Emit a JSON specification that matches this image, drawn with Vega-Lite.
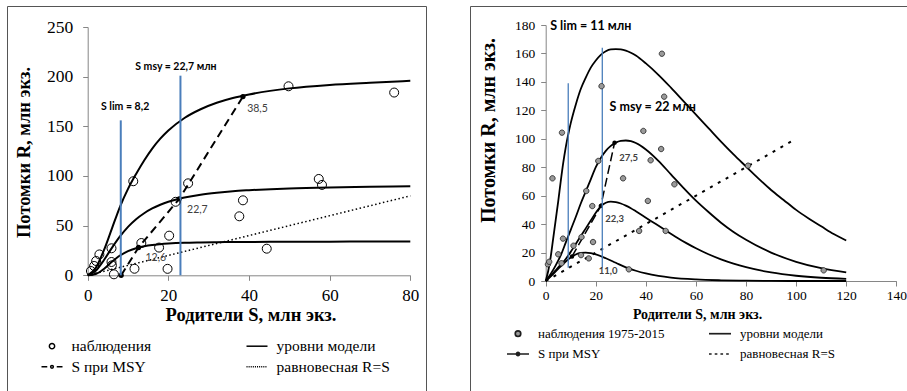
{
"$schema": "https://vega.github.io/schema/vega-lite/v6.json",
"padding": {"left": 6, "top": 5, "right": 0, "bottom": 0},
"background": "white",
"spacing": 42,
"config": {
  "view": {"stroke": "#555555", "strokeWidth": 1},
  "axis": {"grid": false, "domainColor": "#868686", "tickColor": "#868686", "labelColor": "black", "titleColor": "black", "labelFont": "Liberation Serif", "titleFont": "Liberation Serif", "titleFontWeight": "bold", "labelFlush": false, "labelOverlap": false, "tickSize": 5, "domainWidth": 1},
  "legend": {"padding": 0, "labelFont": "Liberation Serif", "labelColor": "black"},
  "text": {"font": "Lato"}
},
"resolve": {"scale": {"x": "independent", "y": "independent", "shape": "independent"}, "legend": {"shape": "independent"}},
"hconcat": [
{
  "width": 419, "height": 385,
  "encoding": {
    "x": {"field": "S", "type": "quantitative", "scale": {"domain": [0, 80], "range": [80.7, 403.3], "nice": false, "zero": false},
      "axis": {"title": "Родители S, млн экз.", "values": [0, 20, 40, 60, 80], "offset": -115.7, "labelFontSize": 17, "labelPadding": 7, "titleFontSize": 18.5, "titleBaseline": "alphabetic", "titleX": 243.5, "titleY": 45}},
    "y": {"field": "R", "type": "quantitative", "scale": {"domain": [0, 250], "range": [269.3, 21], "nice": false, "zero": false},
      "axis": {"title": "Потомки R, млн экз.", "values": [0, 50, 100, 150, 200, 250], "offset": -80.7, "labelFontSize": 17.5, "labelPadding": 10, "titleFontSize": 18.5, "titleBaseline": "middle", "titleX": -64.7, "titleY": 146}}
  },
  "layer": [
    {"data": {"values": [
      {"k": "high", "S": 0, "R": 0}, {"k": "high", "S": 2, "R": 7.5}, {"k": "high", "S": 4, "R": 25}, {"k": "high", "S": 6, "R": 47}, {"k": "high", "S": 8, "R": 69}, {"k": "high", "S": 10, "R": 87}, {"k": "high", "S": 12, "R": 102}, {"k": "high", "S": 14, "R": 115.6}, {"k": "high", "S": 16, "R": 127.6}, {"k": "high", "S": 18, "R": 137.6}, {"k": "high", "S": 20, "R": 145.8}, {"k": "high", "S": 24, "R": 158.4}, {"k": "high", "S": 28, "R": 167.2}, {"k": "high", "S": 32, "R": 173.7}, {"k": "high", "S": 36, "R": 178.5}, {"k": "high", "S": 40, "R": 182.1}, {"k": "high", "S": 50, "R": 188.2}, {"k": "high", "S": 60, "R": 191.7}, {"k": "high", "S": 70, "R": 193.9}, {"k": "high", "S": 80, "R": 195.8},
      {"k": "mid", "S": 0, "R": 0}, {"k": "mid", "S": 2, "R": 4.6}, {"k": "mid", "S": 4, "R": 15.2}, {"k": "mid", "S": 6, "R": 27.6}, {"k": "mid", "S": 8, "R": 39.1}, {"k": "mid", "S": 10, "R": 48.8}, {"k": "mid", "S": 12, "R": 56.5}, {"k": "mid", "S": 14, "R": 62.5}, {"k": "mid", "S": 16, "R": 67.3}, {"k": "mid", "S": 18, "R": 71}, {"k": "mid", "S": 20, "R": 74}, {"k": "mid", "S": 24, "R": 78.3}, {"k": "mid", "S": 28, "R": 81.2}, {"k": "mid", "S": 32, "R": 83.2}, {"k": "mid", "S": 36, "R": 84.7}, {"k": "mid", "S": 40, "R": 85.7}, {"k": "mid", "S": 50, "R": 87.5}, {"k": "mid", "S": 60, "R": 88.5}, {"k": "mid", "S": 70, "R": 89.1}, {"k": "mid", "S": 80, "R": 89.6},
      {"k": "low", "S": 0, "R": 0}, {"k": "low", "S": 2, "R": 1.3}, {"k": "low", "S": 4, "R": 6.4}, {"k": "low", "S": 6, "R": 13.6}, {"k": "low", "S": 8, "R": 19.9}, {"k": "low", "S": 10, "R": 24.4}, {"k": "low", "S": 12, "R": 27.3}, {"k": "low", "S": 14, "R": 29.2}, {"k": "low", "S": 16, "R": 30.5}, {"k": "low", "S": 18, "R": 31.3}, {"k": "low", "S": 20, "R": 31.9}, {"k": "low", "S": 24, "R": 32.7}, {"k": "low", "S": 28, "R": 33.1}, {"k": "low", "S": 32, "R": 33.4}, {"k": "low", "S": 36, "R": 33.5}, {"k": "low", "S": 40, "R": 33.6}, {"k": "low", "S": 50, "R": 33.8}, {"k": "low", "S": 60, "R": 33.9}, {"k": "low", "S": 70, "R": 33.95}, {"k": "low", "S": 80, "R": 34}
    ]},
     "mark": {"type": "line", "color": "black", "strokeWidth": 2, "interpolate": "monotone"},
     "encoding": {"detail": {"field": "k"}}},
    {"data": {"values": [{"S": 0, "R": 0}, {"S": 80, "R": 80}]},
     "mark": {"type": "line", "color": "black", "strokeWidth": 1.5, "strokeDash": [1.5, 2.5]},
     "encoding": {}},
    {"data": {"values": [{"S": 8.3, "R": 0}, {"S": 12.6, "R": 28}, {"S": 22.7, "R": 77}, {"S": 38.5, "R": 180}]},
     "mark": {"type": "line", "color": "black", "strokeWidth": 2, "strokeDash": [8, 5]},
     "encoding": {}},
    {"data": {"values": [{"S": 8.3, "R": 0}, {"S": 12.6, "R": 28}, {"S": 22.7, "R": 77}, {"S": 38.5, "R": 180}]},
     "mark": {"type": "point", "shape": "circle", "filled": true, "color": "black", "size": 28, "opacity": 1},
     "encoding": {}},
    {"data": {"values": [{"S": 8.2, "R": 0, "R2": 156}, {"S": 23, "R": 0, "R2": 201}]},
     "mark": {"type": "rule", "color": "#4a7ebb", "strokeWidth": 2},
     "encoding": {"y2": {"field": "R2"}}},
    {"data": {"values": [
      {"kind": "наблюдения", "S": 0.8, "R": 4.3}, {"kind": "наблюдения", "S": 1.6, "R": 9.4}, {"kind": "наблюдения", "S": 2.1, "R": 14.4}, {"kind": "наблюдения", "S": 2.9, "R": 21}, {"kind": "наблюдения", "S": 5.9, "R": 27.2}, {"kind": "наблюдения", "S": 5.9, "R": 13.4}, {"kind": "наблюдения", "S": 6.0, "R": 10}, {"kind": "наблюдения", "S": 6.5, "R": 1}, {"kind": "наблюдения", "S": 11.3, "R": 94.7}, {"kind": "наблюдения", "S": 11.6, "R": 6.6}, {"kind": "наблюдения", "S": 13.3, "R": 32.5}, {"kind": "наблюдения", "S": 17.7, "R": 27.9}, {"kind": "наблюдения", "S": 19.8, "R": 6.5}, {"kind": "наблюдения", "S": 20.2, "R": 39.9}, {"kind": "наблюдения", "S": 21.8, "R": 74}, {"kind": "наблюдения", "S": 24.9, "R": 92.6}, {"kind": "наблюдения", "S": 37.6, "R": 59.4}, {"kind": "наблюдения", "S": 38.5, "R": 75.5}, {"kind": "наблюдения", "S": 44.4, "R": 26.8}, {"kind": "наблюдения", "S": 49.8, "R": 190.3}, {"kind": "наблюдения", "S": 57.3, "R": 97}, {"kind": "наблюдения", "S": 58.1, "R": 91}, {"kind": "наблюдения", "S": 76, "R": 184}
    ]},
     "mark": {"type": "point", "filled": false, "color": "black", "strokeWidth": 1, "size": 1296, "opacity": 1},
     "encoding": {"shape": {"field": "kind", "type": "nominal",
       "scale": {"domain": ["наблюдения", "S при MSY", "уровни модели", "равновесная R=S"],
                 "range": ["M-0.25,0a0.25,0.25 0 1,0 0.5,0a0.25,0.25 0 1,0 -0.5,0", "M-1,0H-0.45M0.45,0H1M-0.13,0a0.13,0.13 0 1,0 0.26,0a0.13,0.13 0 1,0 -0.26,0", "M-1,0H1", "M-1,0H-0.9M-0.8,0H-0.7M-0.6,0H-0.5M-0.4,0H-0.3M-0.2,0H-0.1M0,0H0.1M0.2,0H0.3M0.4,0H0.5M0.6,0H0.7M0.8,0H0.9"]},
       "legend": {"title": null, "orient": "none", "legendX": 33.5, "legendY": 328.7, "columns": 2, "columnPadding": 92, "rowPadding": 0.6, "symbolSize": 441, "symbolStrokeWidth": 1.5, "symbolStrokeColor": "black", "labelFontSize": 15.5, "labelOffset": 8}}}},
    {"data": {"values": [{"S": 42.1, "R": 167, "t": "38,5"}, {"S": 27.2, "R": 65.5, "t": "22,7"}, {"S": 16.9, "R": 17.7, "t": "12,6"}]},
     "mark": {"type": "text", "fontSize": 10.5, "color": "#404040", "align": "center", "baseline": "middle"},
     "encoding": {"text": {"field": "t"}}},
    {"data": {"values": [{"S": 3.3, "R": 169.5, "t": "S lim = 8,2"}, {"S": 11.8, "R": 210, "t": "S msy = 22,7 млн"}]},
     "mark": {"type": "text", "fontSize": 10.5, "fontWeight": "bold", "color": "black", "align": "left", "baseline": "middle"},
     "encoding": {"text": {"field": "t"}}}
  ]
},
{
  "width": 438, "height": 385,
  "encoding": {
    "x": {"field": "S", "type": "quantitative", "scale": {"domain": [0, 140], "range": [75.7, 426.3], "nice": false, "zero": false},
      "axis": {"title": "Родители S, млн экз.", "values": [0, 20, 40, 60, 80, 100, 120, 140], "offset": -110, "labelFontSize": 13.5, "labelPadding": 2.5, "titleFontSize": 14, "titleBaseline": "alphabetic", "titleX": 227, "titleY": 37}},
    "y": {"field": "R", "type": "quantitative", "scale": {"domain": [0, 180], "range": [275, 19], "nice": false, "zero": false},
      "axis": {"title": "Потомки R, млн экз.", "values": [0, 20, 40, 60, 80, 100, 120, 140, 160, 180], "offset": -75.7, "labelFontSize": 13.5, "labelPadding": 6, "titleFontSize": 20, "titleBaseline": "middle", "titleX": -57.7, "titleY": 124}}
  },
  "layer": [
    {"data": {"values": [
      {"k": "A", "S": 0, "R": 0}, {"k": "A", "S": 1, "R": 7}, {"k": "A", "S": 2, "R": 17}, {"k": "A", "S": 3, "R": 30}, {"k": "A", "S": 4, "R": 43}, {"k": "A", "S": 5, "R": 56}, {"k": "A", "S": 6, "R": 70}, {"k": "A", "S": 7, "R": 83}, {"k": "A", "S": 8, "R": 94}, {"k": "A", "S": 9, "R": 103}, {"k": "A", "S": 10, "R": 111}, {"k": "A", "S": 12, "R": 124}, {"k": "A", "S": 14, "R": 135}, {"k": "A", "S": 16, "R": 143}, {"k": "A", "S": 18, "R": 150}, {"k": "A", "S": 20, "R": 155}, {"k": "A", "S": 22, "R": 159}, {"k": "A", "S": 24, "R": 161.5}, {"k": "A", "S": 26, "R": 162.8}, {"k": "A", "S": 28, "R": 163}, {"k": "A", "S": 30, "R": 162.8}, {"k": "A", "S": 32, "R": 162}, {"k": "A", "S": 34, "R": 160.5}, {"k": "A", "S": 36, "R": 158.5}, {"k": "A", "S": 40, "R": 153}, {"k": "A", "S": 45, "R": 145}, {"k": "A", "S": 50, "R": 136}, {"k": "A", "S": 55, "R": 126.5}, {"k": "A", "S": 60, "R": 117}, {"k": "A", "S": 65, "R": 107.5}, {"k": "A", "S": 70, "R": 98}, {"k": "A", "S": 75, "R": 89}, {"k": "A", "S": 80, "R": 80.5}, {"k": "A", "S": 85, "R": 72}, {"k": "A", "S": 90, "R": 64}, {"k": "A", "S": 95, "R": 57}, {"k": "A", "S": 100, "R": 50}, {"k": "A", "S": 105, "R": 44}, {"k": "A", "S": 110, "R": 38.5}, {"k": "A", "S": 115, "R": 33}, {"k": "A", "S": 120, "R": 28.5},
      {"k": "B", "S": 0, "R": 0}, {"k": "B", "S": 2, "R": 5}, {"k": "B", "S": 4, "R": 11}, {"k": "B", "S": 6, "R": 18}, {"k": "B", "S": 8, "R": 27}, {"k": "B", "S": 10, "R": 36}, {"k": "B", "S": 12, "R": 45}, {"k": "B", "S": 14, "R": 54.5}, {"k": "B", "S": 16, "R": 63}, {"k": "B", "S": 18, "R": 71.5}, {"k": "B", "S": 20, "R": 80}, {"k": "B", "S": 22, "R": 86.5}, {"k": "B", "S": 24, "R": 91.5}, {"k": "B", "S": 26, "R": 95}, {"k": "B", "S": 28, "R": 97.3}, {"k": "B", "S": 30, "R": 98.5}, {"k": "B", "S": 32, "R": 98.8}, {"k": "B", "S": 34, "R": 98.3}, {"k": "B", "S": 36, "R": 97}, {"k": "B", "S": 40, "R": 92.5}, {"k": "B", "S": 45, "R": 84.5}, {"k": "B", "S": 50, "R": 75}, {"k": "B", "S": 55, "R": 65.5}, {"k": "B", "S": 60, "R": 56.5}, {"k": "B", "S": 65, "R": 48.5}, {"k": "B", "S": 70, "R": 41}, {"k": "B", "S": 75, "R": 34.5}, {"k": "B", "S": 80, "R": 29}, {"k": "B", "S": 90, "R": 20}, {"k": "B", "S": 100, "R": 13.5}, {"k": "B", "S": 110, "R": 9}, {"k": "B", "S": 120, "R": 6},
      {"k": "C", "S": 0, "R": 0}, {"k": "C", "S": 2, "R": 3.6}, {"k": "C", "S": 4, "R": 7.5}, {"k": "C", "S": 6, "R": 11.5}, {"k": "C", "S": 8, "R": 15.5}, {"k": "C", "S": 10, "R": 20.5}, {"k": "C", "S": 12, "R": 26}, {"k": "C", "S": 14, "R": 31.5}, {"k": "C", "S": 16, "R": 37}, {"k": "C", "S": 18, "R": 42.5}, {"k": "C", "S": 20, "R": 48}, {"k": "C", "S": 22, "R": 52.5}, {"k": "C", "S": 24, "R": 55}, {"k": "C", "S": 26, "R": 55.8}, {"k": "C", "S": 28, "R": 55.5}, {"k": "C", "S": 30, "R": 54.5}, {"k": "C", "S": 32, "R": 53}, {"k": "C", "S": 34, "R": 51.2}, {"k": "C", "S": 36, "R": 49}, {"k": "C", "S": 40, "R": 44.5}, {"k": "C", "S": 44, "R": 40}, {"k": "C", "S": 48, "R": 35.5}, {"k": "C", "S": 52, "R": 31}, {"k": "C", "S": 56, "R": 26.8}, {"k": "C", "S": 60, "R": 23}, {"k": "C", "S": 65, "R": 18.8}, {"k": "C", "S": 70, "R": 15.2}, {"k": "C", "S": 75, "R": 12.2}, {"k": "C", "S": 80, "R": 9.7}, {"k": "C", "S": 90, "R": 6}, {"k": "C", "S": 100, "R": 3.7}, {"k": "C", "S": 110, "R": 2.3}, {"k": "C", "S": 120, "R": 1.5},
      {"k": "D", "S": 0, "R": 0}, {"k": "D", "S": 2, "R": 3.3}, {"k": "D", "S": 4, "R": 6.8}, {"k": "D", "S": 6, "R": 10.3}, {"k": "D", "S": 8, "R": 13.7}, {"k": "D", "S": 10, "R": 16.6}, {"k": "D", "S": 12, "R": 18.6}, {"k": "D", "S": 14, "R": 19.7}, {"k": "D", "S": 16, "R": 20}, {"k": "D", "S": 18, "R": 19.6}, {"k": "D", "S": 20, "R": 18.7}, {"k": "D", "S": 24, "R": 16}, {"k": "D", "S": 28, "R": 12.8}, {"k": "D", "S": 32, "R": 9.6}, {"k": "D", "S": 36, "R": 7.2}, {"k": "D", "S": 40, "R": 5.3}, {"k": "D", "S": 45, "R": 3.6}, {"k": "D", "S": 50, "R": 2.4}, {"k": "D", "S": 60, "R": 1.1}, {"k": "D", "S": 70, "R": 0.5}, {"k": "D", "S": 80, "R": 0.2}, {"k": "D", "S": 90, "R": 0.1}, {"k": "D", "S": 100, "R": 0}, {"k": "D", "S": 120, "R": 0}
    ]},
     "mark": {"type": "line", "color": "black", "strokeWidth": 1.8, "interpolate": "monotone"},
     "encoding": {"detail": {"field": "k"}}},
    {"data": {"values": [{"S": 0, "R": 0}, {"S": 100, "R": 100}]},
     "mark": {"type": "line", "color": "black", "strokeWidth": 2, "strokeDash": [3, 6]},
     "encoding": {}},
    {"data": {"values": [{"S": 10.5, "R": 17.2}, {"S": 22, "R": 52.7}, {"S": 27.5, "R": 97.2}]},
     "mark": {"type": "line", "color": "black", "strokeWidth": 1.5, "strokeDash": [9, 4]},
     "encoding": {}},
    {"data": {"values": [{"S": 10.5, "R": 17.2}, {"S": 22, "R": 52.7}, {"S": 27.5, "R": 97.2}]},
     "mark": {"type": "point", "shape": "circle", "filled": true, "color": "black", "size": 20, "opacity": 1},
     "encoding": {}},
    {"data": {"values": [{"S": 9, "R": 9.4, "R2": 139}, {"S": 22.6, "R": 9.4, "R2": 164}]},
     "mark": {"type": "rule", "color": "#4a7ebb", "strokeWidth": 1.3},
     "encoding": {"y2": {"field": "R2"}}},
    {"data": {"values": [
      {"kind": "наблюдения 1975-2015", "S": 0.9, "R": 11.7}, {"kind": "наблюдения 1975-2015", "S": 1.4, "R": 13.5}, {"kind": "наблюдения 1975-2015", "S": 2.7, "R": 72.2}, {"kind": "наблюдения 1975-2015", "S": 6.5, "R": 104.3}, {"kind": "наблюдения 1975-2015", "S": 5.0, "R": 18.8}, {"kind": "наблюдения 1975-2015", "S": 6.9, "R": 29.8}, {"kind": "наблюдения 1975-2015", "S": 6.3, "R": 12.5}, {"kind": "наблюдения 1975-2015", "S": 11.1, "R": 24.8}, {"kind": "наблюдения 1975-2015", "S": 14.3, "R": 30.9}, {"kind": "наблюдения 1975-2015", "S": 16.2, "R": 63.3}, {"kind": "наблюдения 1975-2015", "S": 18.6, "R": 52.7}, {"kind": "наблюдения 1975-2015", "S": 18.9, "R": 27.4}, {"kind": "наблюдения 1975-2015", "S": 14.1, "R": 18.2}, {"kind": "наблюдения 1975-2015", "S": 17.2, "R": 15.9}, {"kind": "наблюдения 1975-2015", "S": 21, "R": 84.4}, {"kind": "наблюдения 1975-2015", "S": 22.3, "R": 137}, {"kind": "наблюдения 1975-2015", "S": 30.9, "R": 72.2}, {"kind": "наблюдения 1975-2015", "S": 33.2, "R": 8.2}, {"kind": "наблюдения 1975-2015", "S": 37.3, "R": 35.2}, {"kind": "наблюдения 1975-2015", "S": 39, "R": 105.5}, {"kind": "наблюдения 1975-2015", "S": 40.8, "R": 56.3}, {"kind": "наблюдения 1975-2015", "S": 41.9, "R": 84.9}, {"kind": "наблюдения 1975-2015", "S": 46.1, "R": 92.8}, {"kind": "наблюдения 1975-2015", "S": 46.4, "R": 159.8}, {"kind": "наблюдения 1975-2015", "S": 47.3, "R": 129.6}, {"kind": "наблюдения 1975-2015", "S": 47.9, "R": 35.2}, {"kind": "наблюдения 1975-2015", "S": 51.4, "R": 68}, {"kind": "наблюдения 1975-2015", "S": 80.8, "R": 81.1}, {"kind": "наблюдения 1975-2015", "S": 111, "R": 7.5}
    ]},
     "mark": {"type": "point", "filled": true, "fill": "#9a9a9a", "stroke": "#1e1e1e", "strokeWidth": 0.8, "size": 467, "opacity": 1},
     "encoding": {"shape": {"field": "kind", "type": "nominal",
       "scale": {"domain": ["наблюдения 1975-2015", "S при MSY", "уровни модели", "равновесная R=S"],
                 "range": ["M-0.25,0a0.25,0.25 0 1,0 0.5,0a0.25,0.25 0 1,0 -0.5,0", "M-1,0H1M-0.14,0a0.14,0.14 0 1,0 0.28,0a0.14,0.14 0 1,0 -0.28,0", "M-1,0H1", "M-1,0H-0.76M-0.48,0H-0.24M0.04,0H0.28M0.56,0H0.8"]},
       "legend": {"title": null, "orient": "none", "legendX": 36, "legendY": 315.7, "columns": 2, "columnPadding": 40, "rowPadding": 1.3, "symbolSize": 484, "symbolStrokeWidth": 1.7, "labelFontSize": 13, "labelOffset": 8}}}},
    {"data": {"values": [{"S": 33.1, "R": 86.7, "t": "27,5"}, {"S": 27.5, "R": 43.4, "t": "22,3"}, {"S": 24.9, "R": 7, "t": "11,0"}]},
     "mark": {"type": "text", "fontSize": 9.5, "fontWeight": "bold", "color": "#404040", "align": "center", "baseline": "middle"},
     "encoding": {"text": {"field": "t"}}},
    {"data": {"values": [{"S": 1.8, "R": 179.3, "t": "S lim = 11 млн"}, {"S": 25.5, "R": 122.4, "t": "S msy = 22 млн"}]},
     "mark": {"type": "text", "fontSize": 12.5, "fontWeight": "bold", "color": "black", "align": "left", "baseline": "middle"},
     "encoding": {"text": {"field": "t"}}}
  ]
}
]
}
